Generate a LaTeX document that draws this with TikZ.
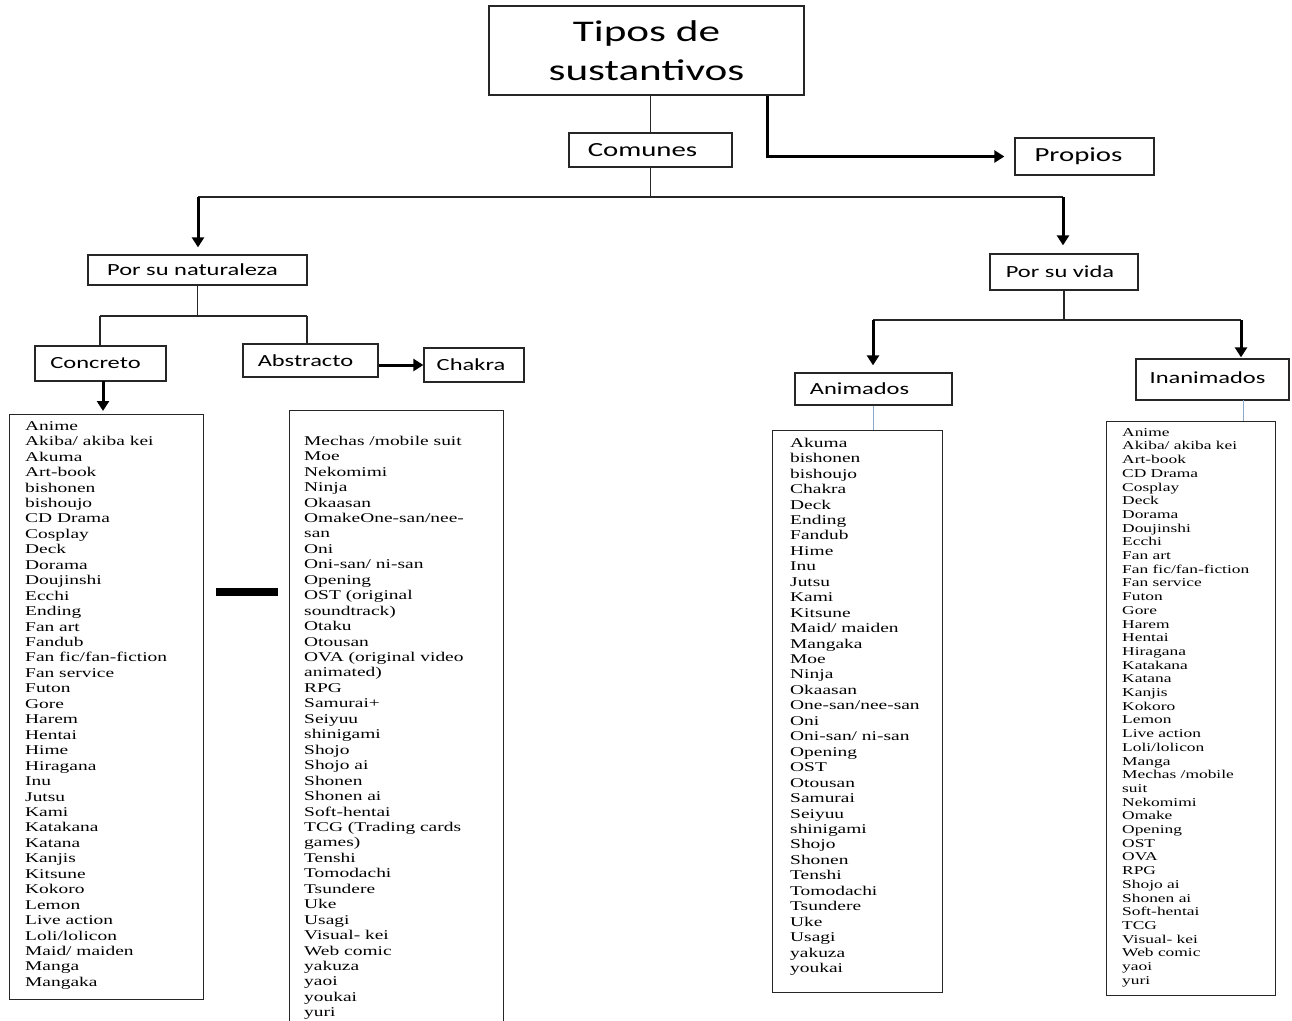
\documentclass[tikz,border=0pt]{standalone}
\usepackage{fontspec}
\usetikzlibrary{arrows.meta,calc}
\newfontfamily\labfont{Carlito}[FakeStretch=1.44]
\newfontfamily\listfont{Liberation Serif}[FakeStretch=1.45]
\definecolor{leafline}{RGB}{140,170,200}
% \nudgeleft{d}{text}: set text d points left of the box centre
\newcommand{\nudgeleft}[2]{#2\kern#1pt\kern#1pt}
\tikzset{
  box/.style={draw=black!85, line width=1.3pt, inner sep=0pt,
    font=\labfont\fontsize{17}{20}\selectfont},
  bigbox/.style={box, font=\labfont\fontsize{20}{24}\selectfont},
  listbox/.style={draw=black!85, line width=1.3pt, anchor=north west, inner sep=0pt},
  link/.style={line width=1.4pt, black!85},
  bigarrow/.style={line width=3pt, -{Triangle[width=12pt,length=10pt]}},
  leaf/.style={line width=1pt, leafline},
  items/.style={anchor=north west, inner sep=0pt, align=left,
    font=\listfont\fontsize{13.4}{15.45}\selectfont},
  smallitems/.style={items, font=\listfont\fontsize{12}{13.7}\selectfont}
}
\begin{document}
\begin{tikzpicture}[x=1pt,y=-1pt]
\useasboundingbox[fill=white] (0,0) rectangle (1292,1020);

% heading and first level
\node[box, minimum width=315pt, minimum height=89pt, align=center,
      font=\labfont\fontsize{30}{39}\selectfont] (title) at (646.5,50.5) {Tipos de\\sustantivos};
\node[bigbox, minimum width=163pt, minimum height=34pt] (com) at (650.5,150) {\nudgeleft{8}{Comunes}};
\node[bigbox, minimum width=139pt, minimum height=37pt] (prop) at (1084.5,156.5) {\nudgeleft{6}{Propios}};

% second level
\node[box, minimum width=219pt, minimum height=30pt] (nat) at (197.5,270) {\nudgeleft{5}{Por su naturaleza}};
\node[box, minimum width=148pt, minimum height=36pt] (vida) at (1064,272) {\nudgeleft{4}{Por su vida}};

% third level
\node[box, minimum width=131pt, minimum height=35pt] (conc) at (100.5,363.5) {\nudgeleft{5}{Concreto}};
\node[box, minimum width=135pt, minimum height=33pt] (abs) at (310.5,360.5) {\nudgeleft{5}{Abstracto}};
\node[box, minimum width=100pt, minimum height=34pt] (chk) at (474,365) {\nudgeleft{3}{Chakra}};
\node[box, minimum width=157pt, minimum height=32pt] (anim) at (873.5,389) {\nudgeleft{14}{Animados}};
\node[box, minimum width=153pt, minimum height=41pt] (inan) at (1212.5,379.5) {\raisebox{4pt}{\nudgeleft{5}{Inanimados}}};

% word lists
\node[listbox, minimum width=194pt, minimum height=585pt] (l1) at (9,414) {};
\node[listbox, minimum width=214pt, minimum height=620pt] (l2) at (289,410) {};
\node[listbox, minimum width=170pt, minimum height=562pt] (l3) at (772,430) {};
\node[listbox, minimum width=169pt, minimum height=574pt] (l4) at (1106,421) {};

\node[items] (t1) at (25,419.2) {\strut Anime\\Akiba/ akiba kei\\Akuma\\Art-book\\bishonen\\bishoujo\\CD Drama\\Cosplay\\Deck\\Dorama\\Doujinshi\\Ecchi\\Ending\\Fan art\\Fandub\\Fan fic/fan-fiction\\Fan service\\Futon\\Gore\\Harem\\Hentai\\Hime\\Hiragana\\Inu\\Jutsu\\Kami\\Katakana\\Katana\\Kanjis\\Kitsune\\Kokoro\\Lemon\\Live action\\Loli/lolicon\\Maid/ maiden\\Manga\\Mangaka};

\node[items] (t2) at (304,434.2) {\strut Mechas /mobile suit\\Moe\\Nekomimi\\Ninja\\Okaasan\\OmakeOne-san/nee-\\san\\Oni\\Oni-san/ ni-san\\Opening\\OST (original\\soundtrack)\\Otaku\\Otousan\\OVA (original video\\animated)\\RPG\\Samurai+\\Seiyuu\\shinigami\\Shojo\\Shojo ai\\Shonen\\Shonen ai\\Soft-hentai\\TCG (Trading cards\\games)\\Tenshi\\Tomodachi\\Tsundere\\Uke\\Usagi\\Visual- kei\\Web comic\\yakuza\\yaoi\\youkai\\yuri};

\node[items] (t3) at (790,436.2) {\strut Akuma\\bishonen\\bishoujo\\Chakra\\Deck\\Ending\\Fandub\\Hime\\Inu\\Jutsu\\Kami\\Kitsune\\Maid/ maiden\\Mangaka\\Moe\\Ninja\\Okaasan\\One-san/nee-san\\Oni\\Oni-san/ ni-san\\Opening\\OST\\Otousan\\Samurai\\Seiyuu\\shinigami\\Shojo\\Shonen\\Tenshi\\Tomodachi\\Tsundere\\Uke\\Usagi\\yakuza\\youkai};

\node[smallitems] (t4) at (1122,426.4) {\strut Anime\\Akiba/ akiba kei\\Art-book\\CD Drama\\Cosplay\\Deck\\Dorama\\Doujinshi\\Ecchi\\Fan art\\Fan fic/fan-fiction\\Fan service\\Futon\\Gore\\Harem\\Hentai\\Hiragana\\Katakana\\Katana\\Kanjis\\Kokoro\\Lemon\\Live action\\Loli/lolicon\\Manga\\Mechas /mobile\\suit\\Nekomimi\\Omake\\Opening\\OST\\OVA\\RPG\\Shojo ai\\Shonen ai\\Soft-hentai\\TCG\\Visual- kei\\Web comic\\yaoi\\yuri};

% heavy bar between the two lists
\fill (216,588) rectangle (278,596);

% connectors: top
\coordinate (bl) at (198,197);
\coordinate (br) at (1063,197);
\coordinate (pcol) at (767,0);
\draw[link] (com.north) -- (com.north |- title.south);
\draw[link] (com.south) -- (com.south |- bl);
\draw[link] (bl) -- (br);
\draw[bigarrow, shorten >=7pt] (bl) -- (bl |- nat.north);
\draw[bigarrow, shorten >=8pt] (br) -- (br |- vida.north);
\draw[bigarrow, shorten >=10pt] (title.south -| pcol) |- (prop.west);

% connectors: por su naturaleza
\coordinate (nl) at (100,316);
\coordinate (nr) at (307,316);
\coordinate (cx) at (103,381);
\draw[link] (nat.south) -- (nat.south |- nl);
\draw[link] (nl) -- (nr);
\draw[link] (nl) -- (nl |- conc.north);
\draw[link] (nr) -- (nr |- abs.north);
\draw[bigarrow] (abs.east |- chk.west) -- (chk.west);
\draw[bigarrow, shorten >=3pt] (cx) -- (cx |- l1.north);

% connectors: por su vida
\coordinate (vl) at (873,320);
\coordinate (vr) at (1241,320);
\coordinate (iq) at (1243,400);
\draw[link] (vida.south) -- (vida.south |- vl);
\draw[link] (vl) -- (vr);
\draw[bigarrow, shorten >=7pt] (vl) -- (vl |- anim.north);
\draw[bigarrow, shorten >=1pt] (vr) -- (vr |- inan.north);
\draw[leaf] (anim.south) -- (anim.south |- l3.north);
\draw[leaf] (iq) -- (iq |- l4.north);
\end{tikzpicture}
\end{document}
